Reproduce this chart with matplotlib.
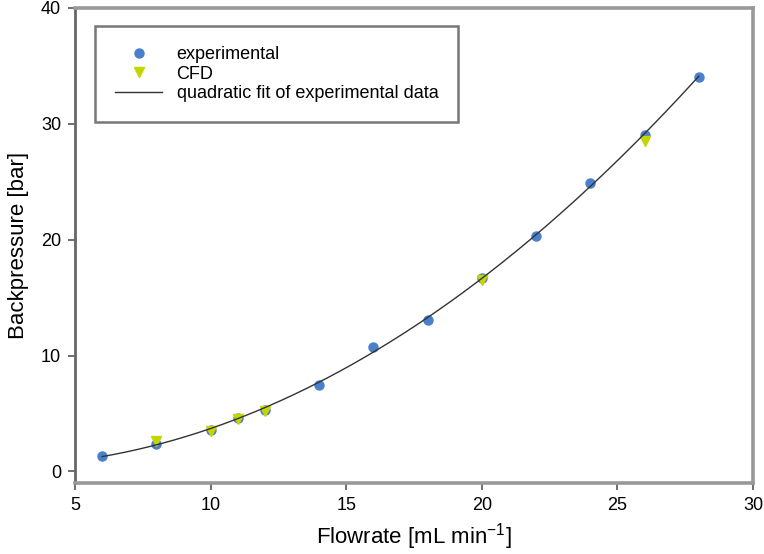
import matplotlib
matplotlib.use('Agg')
import matplotlib.pyplot as plt
import numpy as np

plt.rcParams['font.family'] = ['Liberation Sans', 'DejaVu Sans']

# experimental data
flow_exp = [6, 8, 10, 11, 12, 14, 16, 18, 20, 22, 24, 26, 28]
bp_exp = [1.3, 2.4, 3.6, 4.65, 5.3, 7.5, 10.7, 13.1, 16.7, 20.3, 24.9, 29.05, 34.05]

# CFD data
flow_cfd = [8, 10, 11, 12, 20, 26]
bp_cfd = [2.6, 3.5, 4.5, 5.2, 16.5, 28.5]

# quadratic fit of experimental data
coef = np.polyfit(flow_exp, bp_exp, 2)
xfit = np.linspace(min(flow_exp), max(flow_exp), 200)
yfit = np.polyval(coef, xfit)

fig = plt.figure(figsize=(7.64, 5.54), dpi=100)
ax = fig.add_axes([0.0982, 0.1282, 0.8874, 0.8574])

ax.plot(flow_exp, bp_exp, 'o', color='#4a7fcc', markersize=6.5, label='experimental', zorder=3)
ax.plot(flow_cfd, bp_cfd, 'v', color='#c4d600', markersize=6.5, label='CFD', zorder=4)
ax.plot(xfit, yfit, '-', color='#333333', lw=1.0, label='quadratic fit of experimental data', zorder=5)

ax.set_xlim(5, 30)
ax.set_ylim(-1, 40)
ax.set_xticks([5, 10, 15, 20, 25, 30])
ax.set_yticks([0, 10, 20, 30, 40])
for s in ax.spines.values():
    s.set_color('#999999')
    s.set_linewidth(2.6)
ax.spines['left'].set_color('#666666')
ax.spines['left'].set_linewidth(2.0)
ax.tick_params(direction='out', length=5, width=1.2, color='#555555', labelsize=13, pad=5)

ax.set_xlabel('Flowrate [mL min$^{\\mathregular{-1}}$]', fontsize=16, labelpad=5)
ax.set_ylabel('Backpressure [bar]', fontsize=16, labelpad=9)

leg = ax.legend(loc='upper left', bbox_to_anchor=(0.03, 0.962), fontsize=13, fancybox=False,
                framealpha=1, edgecolor='#777777', borderpad=1.1, handlelength=2.6,
                labelspacing=0.15, handletextpad=0.8, borderaxespad=0)
leg.get_frame().set_linewidth(1.8)

plt.savefig('out.png', dpi=100)
